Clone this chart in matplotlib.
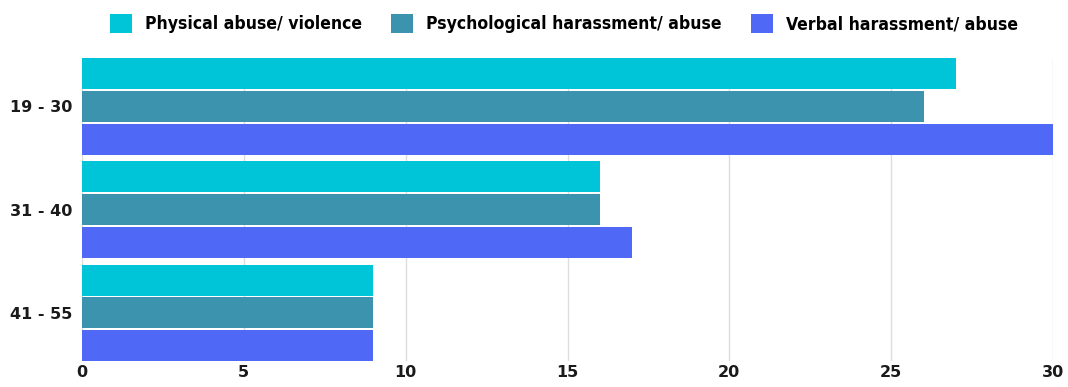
import matplotlib.pyplot as plt
import numpy as np

age_groups = ["19 - 30", "31 - 40", "41 - 55"]
physical = [27, 16, 9]
psychological = [26, 16, 9]
verbal = [30, 17, 9]

series = [
    ("Physical abuse/ violence", physical, "#00C5D8"),
    ("Psychological harassment/ abuse", psychological, "#3B93AE"),
    ("Verbal harassment/ abuse", verbal, "#4F68F6"),
]

fig = plt.figure(figsize=(10.68, 3.87), dpi=100)
ax = fig.add_axes([0.0768, 0.067, 0.9092, 0.783])

y = np.arange(len(age_groups))
step = 0.317
for i, (name, vals, color) in enumerate(series):
    ax.barh(y + (i - 1) * step, vals, height=0.30, color=color, label=name, zorder=3)

ax.set_xlim(0, 30)
ax.set_ylim(2.467, -0.467)
ax.set_xticks([0, 5, 10, 15, 20, 25, 30])
ax.set_yticks(y)
ax.set_yticklabels(age_groups)
ax.xaxis.grid(True, color="#dddddd", linewidth=1, zorder=0)
for s in ax.spines.values():
    s.set_visible(False)
ax.tick_params(length=0, labelsize=11.5, colors="#1a1a1a")
ax.tick_params(axis="x", pad=3)
ax.tick_params(axis="y", pad=7)
for lbl in ax.get_xticklabels() + ax.get_yticklabels():
    lbl.set_fontweight("bold")

fig.legend(loc="upper center", bbox_to_anchor=(0.528, 1.005), ncol=3, frameon=False,
           prop={"family": "DejaVu Sans", "stretch": "condensed", "weight": "bold", "size": 12.6},
           handlelength=1.25, handleheight=1.3, columnspacing=1.67, handletextpad=0.75)

fig.savefig("out.png", dpi=100)
